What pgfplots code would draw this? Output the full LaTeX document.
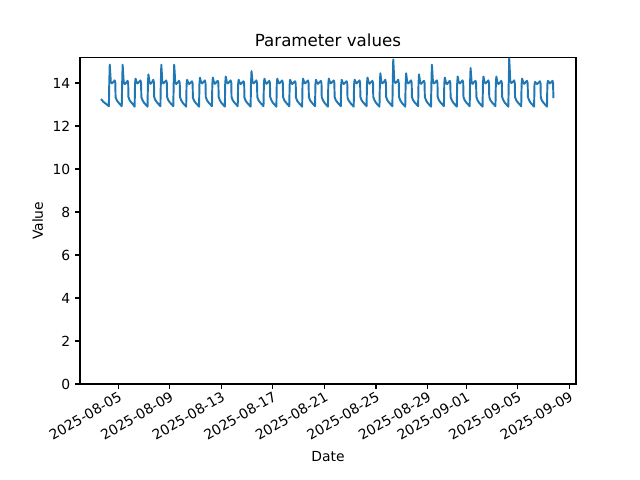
\documentclass[border=0pt]{standalone}
\usepackage{pgfplots}
\pgfplotsset{compat=1.18}
\usepackage{fontspec}
\setmainfont{DejaVu Sans}
\definecolor{mplblue}{HTML}{1F77B4}
\begin{document}
\begin{tikzpicture}
\path[use as bounding box] (0,0) rectangle (460.8pt,345.6pt);
\begin{axis}[
  at={(57.6pt,69.12pt)}, anchor=south west,
  scale only axis, width=357.1pt, height=235pt,
  xmin=2.03, xmax=40.52, ymin=0, ymax=15.18,
  xtick={5,9,13,17,21,25,29,32,36,40},
  xticklabels={2025-08-05,2025-08-09,2025-08-13,2025-08-17,2025-08-21,2025-08-25,2025-08-29,2025-09-01,2025-09-05,2025-09-09},
  ytick={0,2,4,6,8,10,12,14},
  xticklabel style={rotate=30, anchor=north east, font=\fontsize{10}{12}\selectfont, inner sep=1pt},
  yticklabel style={font=\fontsize{10}{12}\selectfont},
  /pgf/number format/assume math mode=true,
  tick align=outside, tick pos=left,
  major tick length=3.5pt,
  every tick/.style={line width=0.8pt, black},
  axis line style={line width=0.8pt},
  title={Parameter values},
  title style={font=\fontsize{12}{14}\selectfont, yshift=-2pt},
  xlabel={Date}, ylabel={Value},
  xlabel style={font=\fontsize{10}{12}\selectfont, yshift=-3pt},
  ylabel style={font=\fontsize{10}{12}\selectfont},
]
\addplot[mplblue, line width=1.4pt, line join=round] coordinates {
(3.66,13.25)(3.85,13.12)(4.00,13.05)(4.15,12.98)(4.27,12.92)(4.30,13.95)(4.34,14.85)(4.42,14.05)(4.50,13.98)(4.62,14.05)(4.72,14.12)(4.77,14.00)(4.79,13.35)(4.88,13.20)
(5.00,13.10)(5.15,13.00)(5.27,12.92)(5.30,13.95)(5.34,14.85)(5.42,14.05)(5.50,13.95)(5.62,14.02)(5.72,14.10)(5.77,14.00)(5.79,13.35)(5.88,13.20)
(6.00,13.10)(6.15,13.00)(6.27,12.90)(6.30,13.95)(6.34,14.20)(6.42,14.05)(6.50,13.98)(6.62,14.05)(6.72,14.12)(6.77,14.00)(6.79,13.35)(6.88,13.20)
(7.00,13.08)(7.15,12.98)(7.27,12.90)(7.30,13.95)(7.34,14.40)(7.42,14.05)(7.50,13.96)(7.62,14.04)(7.72,14.15)(7.77,14.00)(7.79,13.35)(7.88,13.20)
(8.00,13.10)(8.15,13.00)(8.27,12.92)(8.30,13.95)(8.34,14.85)(8.42,14.05)(8.50,13.98)(8.62,14.05)(8.72,14.12)(8.77,14.00)(8.79,13.35)(8.88,13.20)
(9.00,13.10)(9.15,13.00)(9.27,12.92)(9.30,13.95)(9.34,14.85)(9.42,14.05)(9.50,13.95)(9.62,14.02)(9.72,14.10)(9.77,14.00)(9.79,13.35)(9.88,13.20)
(10.00,13.08)(10.15,12.98)(10.27,12.90)(10.30,13.92)(10.34,14.15)(10.42,14.02)(10.50,13.95)(10.62,14.02)(10.72,14.08)(10.77,13.98)(10.79,13.32)(10.88,13.18)
(11.00,13.08)(11.15,12.98)(11.27,12.90)(11.30,13.95)(11.34,14.25)(11.42,14.05)(11.50,13.98)(11.62,14.05)(11.72,14.12)(11.77,14.00)(11.79,13.35)(11.88,13.20)
(12.00,13.10)(12.15,13.00)(12.27,12.92)(12.30,13.95)(12.34,14.25)(12.42,14.05)(12.50,13.96)(12.62,14.04)(12.72,14.10)(12.77,14.00)(12.79,13.35)(12.88,13.20)
(13.00,13.08)(13.15,12.98)(13.27,12.90)(13.30,13.95)(13.34,14.30)(13.42,14.05)(13.50,13.98)(13.62,14.05)(13.72,14.12)(13.77,14.00)(13.79,13.35)(13.88,13.20)
(14.00,13.10)(14.15,13.00)(14.27,12.92)(14.30,13.92)(14.34,14.15)(14.42,14.02)(14.50,13.95)(14.62,14.02)(14.72,14.08)(14.77,13.98)(14.79,13.32)(14.88,13.18)
(15.00,13.08)(15.15,12.98)(15.27,12.90)(15.30,13.95)(15.34,14.55)(15.42,14.05)(15.50,13.98)(15.62,14.05)(15.72,14.12)(15.77,14.00)(15.79,13.35)(15.88,13.20)
(16.00,13.10)(16.15,13.00)(16.27,12.92)(16.30,13.95)(16.34,14.20)(16.42,14.05)(16.50,13.96)(16.62,14.04)(16.72,14.10)(16.77,14.00)(16.79,13.35)(16.88,13.20)
(17.00,13.08)(17.15,12.98)(17.27,12.90)(17.30,13.95)(17.34,14.20)(17.42,14.05)(17.50,13.98)(17.62,14.05)(17.72,14.12)(17.77,14.00)(17.79,13.35)(17.88,13.20)
(18.00,13.10)(18.15,13.00)(18.27,12.92)(18.30,13.92)(18.34,14.15)(18.42,14.02)(18.50,13.95)(18.62,14.02)(18.72,14.08)(18.77,13.98)(18.79,13.32)(18.88,13.18)
(19.00,13.08)(19.15,12.98)(19.27,12.90)(19.30,13.95)(19.34,14.20)(19.42,14.05)(19.50,13.98)(19.62,14.05)(19.72,14.12)(19.77,14.00)(19.79,13.35)(19.88,13.20)
(20.00,13.10)(20.15,13.00)(20.27,12.92)(20.30,13.92)(20.34,14.15)(20.42,14.02)(20.50,13.96)(20.62,14.04)(20.72,14.10)(20.77,14.00)(20.79,13.35)(20.88,13.20)
(21.00,13.08)(21.15,12.98)(21.27,12.90)(21.30,13.95)(21.34,14.20)(21.42,14.05)(21.50,13.98)(21.62,14.05)(21.72,14.12)(21.77,14.00)(21.79,13.35)(21.88,13.20)
(22.00,13.10)(22.15,13.00)(22.27,12.92)(22.30,13.92)(22.34,14.15)(22.42,14.02)(22.50,13.95)(22.62,14.02)(22.72,14.08)(22.77,13.98)(22.79,13.32)(22.88,13.18)
(23.00,13.08)(23.15,12.98)(23.27,12.90)(23.30,13.92)(23.34,14.15)(23.42,14.05)(23.50,13.98)(23.62,14.05)(23.72,14.12)(23.77,14.00)(23.79,13.35)(23.88,13.20)
(24.00,13.10)(24.15,13.00)(24.27,12.92)(24.30,13.95)(24.34,14.25)(24.42,14.05)(24.50,13.96)(24.62,14.04)(24.72,14.10)(24.77,14.00)(24.79,13.35)(24.88,13.20)
(25.00,13.08)(25.15,12.98)(25.27,12.90)(25.30,13.95)(25.34,14.45)(25.42,14.05)(25.50,13.98)(25.62,14.05)(25.72,14.15)(25.77,14.00)(25.79,13.35)(25.88,13.20)
(26.00,13.10)(26.15,13.00)(26.27,12.92)(26.30,13.95)(26.34,15.10)(26.42,14.10)(26.50,14.00)(26.62,14.05)(26.72,14.15)(26.77,14.00)(26.79,13.35)(26.88,13.20)
(27.00,13.08)(27.15,12.98)(27.27,12.90)(27.30,13.95)(27.34,14.45)(27.42,14.05)(27.50,13.98)(27.62,14.05)(27.72,14.12)(27.77,14.00)(27.79,13.35)(27.88,13.20)
(28.00,13.10)(28.15,13.00)(28.27,12.92)(28.30,13.95)(28.34,14.40)(28.42,14.05)(28.50,13.96)(28.62,14.04)(28.72,14.10)(28.77,14.00)(28.79,13.35)(28.88,13.20)
(29.00,13.08)(29.15,12.98)(29.27,12.90)(29.30,13.95)(29.34,14.85)(29.42,14.05)(29.50,13.98)(29.62,14.05)(29.72,14.12)(29.77,14.00)(29.79,13.35)(29.88,13.20)
(30.00,13.10)(30.15,13.00)(30.27,12.92)(30.30,13.95)(30.34,14.25)(30.42,14.05)(30.50,13.95)(30.62,14.02)(30.72,14.10)(30.77,14.00)(30.79,13.35)(30.88,13.20)
(31.00,13.08)(31.15,12.98)(31.27,12.90)(31.30,13.95)(31.34,14.30)(31.42,14.05)(31.50,13.98)(31.62,14.05)(31.72,14.12)(31.77,14.00)(31.79,13.35)(31.88,13.20)
(32.00,13.10)(32.15,13.00)(32.27,12.92)(32.30,13.95)(32.34,14.70)(32.42,14.05)(32.50,13.96)(32.62,14.04)(32.72,14.10)(32.77,14.00)(32.79,13.35)(32.88,13.20)
(33.00,13.08)(33.15,12.98)(33.27,12.90)(33.30,13.95)(33.34,14.30)(33.42,14.05)(33.50,13.98)(33.62,14.05)(33.72,14.12)(33.77,14.00)(33.79,13.35)(33.88,13.20)
(34.00,13.10)(34.15,13.00)(34.27,12.92)(34.30,13.95)(34.34,14.30)(34.42,14.05)(34.50,13.95)(34.62,14.02)(34.72,14.10)(34.77,14.00)(34.79,13.35)(34.88,13.20)
(35.00,13.08)(35.15,12.98)(35.27,12.90)(35.30,13.95)(35.34,15.15)(35.42,14.10)(35.50,14.00)(35.62,14.05)(35.72,14.12)(35.77,14.00)(35.79,13.35)(35.88,13.20)
(36.00,13.10)(36.15,13.00)(36.27,12.92)(36.30,13.95)(36.34,14.20)(36.42,14.05)(36.50,13.96)(36.62,14.04)(36.72,14.10)(36.77,14.00)(36.79,13.35)(36.88,13.20)
(37.00,13.08)(37.15,12.98)(37.27,12.90)(37.30,13.92)(37.34,14.05)(37.42,14.00)(37.50,13.95)(37.62,14.02)(37.72,14.08)(37.77,13.98)(37.79,13.32)(37.88,13.18)
(38.00,13.08)(38.15,12.98)(38.27,12.90)(38.30,13.95)(38.34,14.10)(38.42,14.05)(38.50,13.98)(38.62,14.05)(38.70,14.10)(38.74,14.00)(38.77,13.30)
};
\end{axis}
\end{tikzpicture}
\end{document}
